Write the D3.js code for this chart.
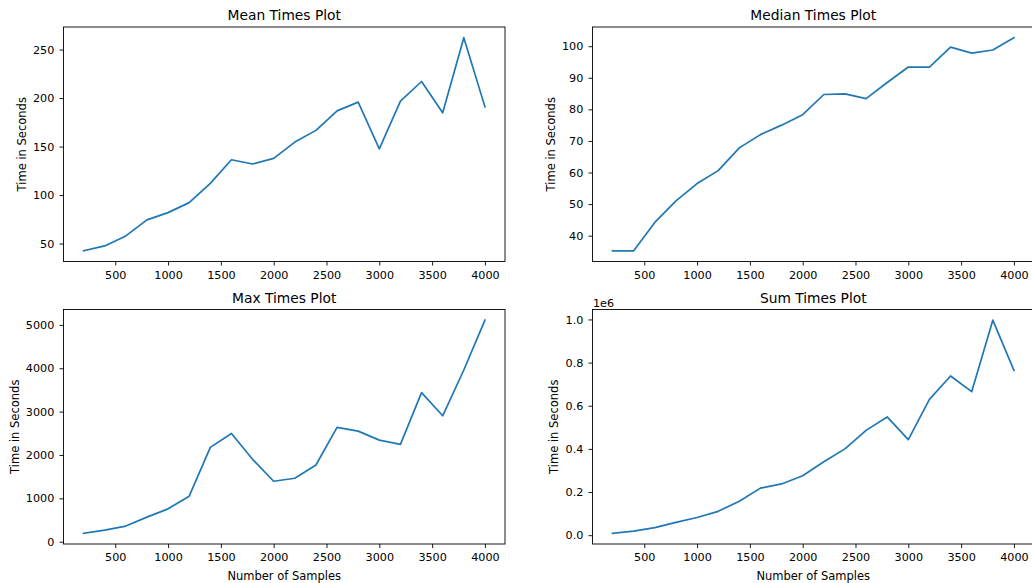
<!DOCTYPE html>
<html>
<head>
<meta charset="utf-8">
<script src="https://cdn.jsdelivr.net/npm/d3@7"></script>
<style>
  html, body { margin: 0; padding: 0; background: #fff; }
  svg { display: block; }
  text { font-family: "DejaVu Sans", sans-serif; fill: #000; }
</style>
</head>
<body>
<svg id="chart" width="1032" height="583"></svg>
<script>
// ---- data ----
const samples = [200, 400, 600, 800, 1000, 1200, 1400, 1600, 1800, 2000,
                 2200, 2400, 2600, 2800, 3000, 3200, 3400, 3600, 3800, 4000];
const meanTimes = [42.5, 47.6, 57.9, 74.4, 81.9, 92.2, 112.1, 136.4, 132.0, 137.9,
                   154.6, 166.7, 186.8, 195.8, 147.7, 196.8, 217.1, 184.8, 262.3, 191.0];
const medianTimes = [35.2, 35.2, 44.2, 51.0, 56.5, 60.6, 67.8, 72.0, 75.0, 78.3,
                     84.7, 84.9, 83.4, 88.5, 93.4, 93.4, 99.7, 97.8, 98.8, 102.7];
const maxTimes = [193, 269, 361, 567, 758, 1050, 2175, 2497, 1900, 1394,
                  1463, 1769, 2635, 2550, 2343, 2244, 3439, 2904, 3960, 5109];
const sumTimes = [8500, 19000, 34700, 59500, 81900, 110600, 157000, 218200, 237600, 275800,
                  340100, 400100, 485700, 548200, 443100, 629800, 738100, 665300, 996700, 764000];
const xTicks = [500, 1000, 1500, 2000, 2500, 3000, 3500, 4000];
const meanTicks = [50, 100, 150, 200, 250];
const medianTicks = [40, 50, 60, 70, 80, 90, 100];
const maxTicks = [0, 1000, 2000, 3000, 4000, 5000];
const sumTicks = [0, 200000, 400000, 600000, 800000, 1000000];
const titles = ["Mean Times Plot", "Median Times Plot", "Max Times Plot", "Sum Times Plot"];

// ---- layout ----
const svg = d3.select("#chart");
const fs = 11.5;        // label font px
const tickFs = 11.2;    // tick font px
const titleFs = 13.8;
const tickLen = 4, tickPad = 5.2, labelPad = 4.6;
const cols = [[63.5, 505], [592.5, 1034]];
const rows = [[27, 261.5], [309.5, 544]];

const panels = [
  {vals: meanTimes, ticks: meanTicks, fmt: d => d3.format("d")(d), col: 0, row: 0},
  {vals: medianTimes, ticks: medianTicks, fmt: d => d3.format("d")(d), col: 1, row: 0},
  {vals: maxTimes, ticks: maxTicks, fmt: d => d3.format("d")(d), col: 0, row: 1},
  {vals: sumTimes, ticks: sumTicks, fmt: d => d3.format(".1f")(d / 1e6), col: 1, row: 1, offset: "1e6"}
];

function padded(ext) {
  const r = ext[1] - ext[0];
  return [ext[0] - 0.05 * r, ext[1] + 0.05 * r];
}

panels.forEach((p, i) => {
  const [x0, x1] = cols[p.col];
  const [y0, y1] = rows[p.row];
  const x = d3.scaleLinear().domain(padded(d3.extent(samples))).range([x0, x1]);
  const y = d3.scaleLinear().domain(padded(d3.extent(p.vals))).range([y1, y0]);

  const g = svg.append("g");

  // line
  const line = d3.line().x((d, j) => x(samples[j])).y(d => y(d));
  g.append("path").datum(p.vals)
    .attr("d", line)
    .attr("fill", "none")
    .attr("stroke", "#1f77b4")
    .attr("stroke-width", 1.7)
    .attr("stroke-linejoin", "round")
    .attr("stroke-linecap", "square");

  // axes
  const xa = g.append("g").attr("transform", `translate(0,${y1})`)
    .call(d3.axisBottom(x).tickValues(xTicks).tickFormat(d3.format("d"))
      .tickSize(tickLen).tickPadding(tickPad));
  const ya = g.append("g").attr("transform", `translate(${x0},0)`)
    .call(d3.axisLeft(y).tickValues(p.ticks).tickFormat(p.fmt)
      .tickSize(tickLen).tickPadding(tickPad));
  [xa, ya].forEach(a => {
    a.select(".domain").remove();
    a.selectAll(".tick line").attr("stroke", "#000").attr("stroke-width", 0.9);
    a.selectAll(".tick text").attr("font-family", "DejaVu Sans, sans-serif")
      .attr("font-size", tickFs).attr("fill", "#000");
  });

  // frame
  g.append("rect")
    .attr("x", x0).attr("y", y0)
    .attr("width", x1 - x0).attr("height", y1 - y0)
    .attr("fill", "none").attr("stroke", "#000").attr("stroke-width", 0.9);

  // title
  g.append("text")
    .attr("x", (x0 + x1) / 2).attr("y", y0 - 6.8)
    .attr("text-anchor", "middle")
    .attr("font-size", titleFs)
    .text(titles[i]);

  // y label
  let maxW = 0;
  ya.selectAll(".tick text").each(function () {
    maxW = Math.max(maxW, this.getBBox().width);
  });
  const edge = x0 - tickLen - tickPad - maxW - labelPad;
  g.append("text")
    .attr("transform", `translate(${edge},${(y0 + y1) / 2}) rotate(-90)`)
    .attr("text-anchor", "middle")
    .attr("dy", -2.7)
    .attr("font-size", fs)
    .text("Time in Seconds");

  // x label for bottom row
  if (p.row === 1) {
    g.append("text")
      .attr("x", (x0 + x1) / 2).attr("y", y1 + 35.5)
      .attr("text-anchor", "middle")
      .attr("font-size", fs)
      .text("Number of Samples");
  }

  if (p.offset) {
    g.append("text")
      .attr("x", x0 + 0.5).attr("y", y0 - 3)
      .attr("font-size", tickFs)
      .text(p.offset);
  }
});
</script>
</body>
</html>
